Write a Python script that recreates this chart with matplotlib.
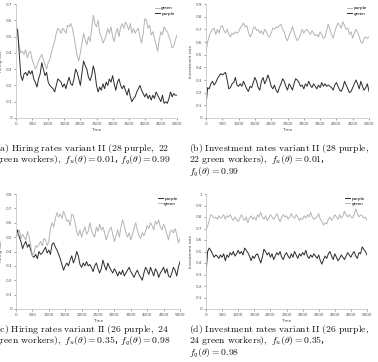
import numpy as np
import matplotlib.pyplot as plt
from matplotlib.ticker import FuncFormatter

plt.rcParams['mathtext.fontset'] = 'cm'

# time axis, one sample every 50 steps
time = np.arange(0, 5001, 50)

# (a) hiring rates, 28 purple / 22 green
hire_a_green = [0.60, 0.52, 0.44, 0.40, 0.41, 0.39, 0.42, 0.37, 0.40, 0.41,
                0.36, 0.33, 0.30, 0.32, 0.35, 0.37, 0.39, 0.36, 0.33, 0.30,
                0.34, 0.36, 0.40, 0.44, 0.47, 0.52, 0.55, 0.54, 0.52, 0.55,
                0.54, 0.52, 0.57, 0.56, 0.58, 0.55, 0.50, 0.44, 0.38, 0.35,
                0.40, 0.46, 0.52, 0.48, 0.45, 0.50, 0.47, 0.55, 0.63, 0.58,
                0.56, 0.60, 0.52, 0.50, 0.46, 0.48, 0.51, 0.55, 0.52, 0.56,
                0.50, 0.47, 0.52, 0.55, 0.50, 0.56, 0.58, 0.55, 0.59, 0.57,
                0.54, 0.58, 0.52, 0.55, 0.52, 0.54, 0.55, 0.50, 0.46, 0.52,
                0.61, 0.60, 0.55, 0.57, 0.51, 0.53, 0.49, 0.45, 0.41, 0.48,
                0.53, 0.51, 0.56, 0.54, 0.53, 0.50, 0.47, 0.43, 0.44, 0.48,
                0.51]
hire_a_purple = [0.55, 0.54, 0.40, 0.26, 0.23, 0.27, 0.28, 0.26, 0.29, 0.27,
                 0.29, 0.24, 0.22, 0.19, 0.24, 0.27, 0.34, 0.30, 0.26, 0.28,
                 0.22, 0.20, 0.19, 0.18, 0.16, 0.20, 0.24, 0.23, 0.22, 0.19,
                 0.21, 0.18, 0.22, 0.25, 0.21, 0.20, 0.24, 0.30, 0.28, 0.24,
                 0.20, 0.28, 0.35, 0.32, 0.30, 0.25, 0.23, 0.26, 0.32, 0.28,
                 0.20, 0.16, 0.19, 0.17, 0.21, 0.18, 0.22, 0.20, 0.24, 0.22,
                 0.26, 0.21, 0.17, 0.22, 0.24, 0.20, 0.18, 0.20, 0.17, 0.14,
                 0.18, 0.13, 0.10, 0.12, 0.13, 0.16, 0.18, 0.20, 0.17, 0.15,
                 0.13, 0.15, 0.12, 0.14, 0.11, 0.14, 0.12, 0.16, 0.14, 0.12,
                 0.10, 0.14, 0.09, 0.10, 0.09, 0.12, 0.16, 0.13, 0.15, 0.14,
                 0.14]

# (b) investment rates, 28 purple / 22 green
inv_b_green = [0.52, 0.60, 0.65, 0.68, 0.70, 0.71, 0.66, 0.70, 0.67, 0.72,
               0.73, 0.69, 0.67, 0.70, 0.66, 0.64, 0.67, 0.66, 0.68, 0.67,
               0.68, 0.71, 0.73, 0.75, 0.72, 0.73, 0.68, 0.64, 0.66, 0.71,
               0.72, 0.69, 0.70, 0.67, 0.69, 0.66, 0.70, 0.68, 0.65, 0.64,
               0.67, 0.71, 0.70, 0.72, 0.71, 0.73, 0.74, 0.70, 0.68, 0.63,
               0.61, 0.65, 0.68, 0.72, 0.68, 0.64, 0.61, 0.63, 0.66, 0.70,
               0.67, 0.69, 0.70, 0.68, 0.66, 0.69, 0.67, 0.65, 0.66, 0.64,
               0.68, 0.66, 0.63, 0.64, 0.69, 0.74, 0.70, 0.66, 0.63, 0.68,
               0.72, 0.75, 0.73, 0.71, 0.76, 0.73, 0.70, 0.71, 0.66, 0.68,
               0.63, 0.67, 0.70, 0.68, 0.64, 0.60, 0.59, 0.63, 0.64, 0.63,
               0.64]
inv_b_purple = [0.10, 0.24, 0.23, 0.27, 0.29, 0.26, 0.28, 0.31, 0.33, 0.35,
                0.34, 0.35, 0.36, 0.30, 0.23, 0.24, 0.27, 0.28, 0.32, 0.26,
                0.25, 0.27, 0.25, 0.29, 0.26, 0.23, 0.21, 0.25, 0.24, 0.28,
                0.32, 0.29, 0.24, 0.22, 0.29, 0.32, 0.27, 0.30, 0.34, 0.30,
                0.25, 0.23, 0.26, 0.22, 0.20, 0.24, 0.27, 0.31, 0.29, 0.25,
                0.22, 0.27, 0.25, 0.22, 0.27, 0.31, 0.30, 0.28, 0.25, 0.26,
                0.23, 0.27, 0.25, 0.29, 0.26, 0.24, 0.27, 0.25, 0.23, 0.26,
                0.24, 0.28, 0.25, 0.27, 0.25, 0.26, 0.25, 0.24, 0.22, 0.26,
                0.28, 0.25, 0.22, 0.21, 0.24, 0.29, 0.26, 0.23, 0.20, 0.21,
                0.24, 0.27, 0.30, 0.27, 0.23, 0.29, 0.25, 0.22, 0.24, 0.27,
                0.21]

# (c) hiring rates, 26 purple / 24 green
hire_c_green = [0.53, 0.51, 0.55, 0.49, 0.52, 0.50, 0.48, 0.54, 0.50, 0.44,
                0.37, 0.39, 0.44, 0.43, 0.45, 0.47, 0.44, 0.49, 0.48, 0.44,
                0.47, 0.56, 0.60, 0.57, 0.63, 0.67, 0.64, 0.66, 0.63, 0.68,
                0.65, 0.61, 0.62, 0.58, 0.66, 0.65, 0.60, 0.54, 0.51, 0.55,
                0.50, 0.54, 0.57, 0.52, 0.54, 0.60, 0.55, 0.52, 0.50, 0.57,
                0.54, 0.59, 0.55, 0.57, 0.53, 0.48, 0.52, 0.55, 0.57, 0.52,
                0.47, 0.51, 0.55, 0.50, 0.57, 0.62, 0.58, 0.53, 0.50, 0.53,
                0.48, 0.52, 0.56, 0.60, 0.55, 0.51, 0.49, 0.53, 0.51, 0.54,
                0.58, 0.56, 0.60, 0.58, 0.55, 0.61, 0.59, 0.62, 0.57, 0.55,
                0.59, 0.56, 0.52, 0.48, 0.54, 0.55, 0.53, 0.56, 0.52, 0.46,
                0.49]
hire_c_purple = [0.51, 0.55, 0.50, 0.47, 0.42, 0.45, 0.47, 0.43, 0.45, 0.41,
                 0.37, 0.36, 0.38, 0.35, 0.40, 0.38, 0.39, 0.41, 0.43, 0.39,
                 0.41, 0.38, 0.45, 0.46, 0.43, 0.41, 0.38, 0.35, 0.31, 0.27,
                 0.30, 0.32, 0.30, 0.34, 0.37, 0.32, 0.35, 0.40, 0.37, 0.31,
                 0.29, 0.32, 0.30, 0.33, 0.30, 0.31, 0.29, 0.26, 0.30, 0.32,
                 0.28, 0.25, 0.28, 0.34, 0.30, 0.27, 0.32, 0.29, 0.27, 0.25,
                 0.28, 0.26, 0.23, 0.26, 0.24, 0.27, 0.23, 0.25, 0.27, 0.29,
                 0.26, 0.24, 0.22, 0.25, 0.27, 0.24, 0.22, 0.20, 0.25, 0.29,
                 0.27, 0.24, 0.29, 0.26, 0.23, 0.28, 0.26, 0.22, 0.25, 0.27,
                 0.29, 0.25, 0.28, 0.23, 0.22, 0.25, 0.29, 0.27, 0.23, 0.29,
                 0.33]

# (d) investment rates, 26 purple / 24 green
inv_d_green = [0.69, 0.72, 0.77, 0.82, 0.81, 0.79, 0.80, 0.78, 0.81, 0.79,
               0.80, 0.82, 0.78, 0.81, 0.80, 0.82, 0.79, 0.77, 0.80, 0.78,
               0.76, 0.79, 0.82, 0.79, 0.77, 0.80, 0.75, 0.79, 0.81, 0.78,
               0.80, 0.77, 0.82, 0.80, 0.84, 0.80, 0.78, 0.81, 0.77, 0.79,
               0.82, 0.80, 0.78, 0.80, 0.83, 0.79, 0.76, 0.80, 0.82, 0.80,
               0.81, 0.78, 0.80, 0.83, 0.80, 0.79, 0.82, 0.80, 0.77, 0.79,
               0.78, 0.81, 0.79, 0.82, 0.80, 0.84, 0.80, 0.78, 0.79, 0.80,
               0.83, 0.78, 0.76, 0.73, 0.75, 0.74, 0.78, 0.80, 0.77, 0.79,
               0.82, 0.80, 0.78, 0.82, 0.79, 0.81, 0.85, 0.82, 0.80, 0.82,
               0.80, 0.79, 0.82, 0.87, 0.83, 0.80, 0.82, 0.81, 0.79, 0.80,
               0.77]
inv_d_purple = [0.30, 0.50, 0.53, 0.51, 0.48, 0.45, 0.47, 0.46, 0.44, 0.47,
                0.45, 0.48, 0.42, 0.47, 0.45, 0.49, 0.47, 0.50, 0.46, 0.48,
                0.51, 0.48, 0.50, 0.47, 0.53, 0.51, 0.49, 0.46, 0.42, 0.46,
                0.44, 0.47, 0.48, 0.44, 0.40, 0.45, 0.52, 0.50, 0.47, 0.49,
                0.45, 0.48, 0.43, 0.46, 0.49, 0.47, 0.50, 0.45, 0.43, 0.47,
                0.49, 0.46, 0.44, 0.48, 0.45, 0.50, 0.47, 0.44, 0.48, 0.46,
                0.49, 0.47, 0.51, 0.46, 0.44, 0.47, 0.45, 0.48, 0.46, 0.44,
                0.47, 0.42, 0.39, 0.43, 0.46, 0.44, 0.48, 0.50, 0.46, 0.43,
                0.48, 0.45, 0.42, 0.44, 0.47, 0.45, 0.43, 0.46, 0.49, 0.47,
                0.45, 0.48, 0.50, 0.46, 0.44, 0.49, 0.48, 0.54, 0.52, 0.50,
                0.47]

DARK = '#2b2b2b'
LIGHT = '#b4b4b4'
W, H = 378, 362


def px_axes(fig, x0, x1, y_top, y_bot):
    return fig.add_axes([x0 / W, 1 - y_bot / H, (x1 - x0) / W, (y_bot - y_top) / H])


def style(ax, ymax, ylabel):
    ax.set_xlim(0, 5000)
    ax.set_ylim(0, ymax)
    ax.set_xticks(np.arange(0, 5001, 500))
    ax.set_yticks(np.arange(0, ymax + 0.001, 0.1))
    fmt = FuncFormatter(lambda v, p: '%g' % round(v, 2))
    ax.xaxis.set_major_formatter(fmt)
    ax.yaxis.set_major_formatter(fmt)
    for s in ['top', 'right']:
        ax.spines[s].set_visible(False)
    for s in ['left', 'bottom']:
        ax.spines[s].set_color('#c8c8c8')
        ax.spines[s].set_linewidth(0.6)
    ax.tick_params(labelsize=3, colors='#555555', length=1.2, width=0.4, pad=1.5)
    ax.set_xlabel('Time', fontsize=3, color='#444444', labelpad=1.5)
    ax.set_ylabel(ylabel, fontsize=3, color='#444444', labelpad=2)


def legend(ax):
    ax.legend(loc='upper right', fontsize=3, frameon=False, handlelength=1.2,
              handletextpad=0.4, borderaxespad=0.2, labelspacing=0.3)


fig = plt.figure(figsize=(W / 100, H / 100), dpi=100)

ax = px_axes(fig, 16, 177, 4, 118)
ax.plot(time, hire_a_green, color=LIGHT, lw=0.7, label='green')
ax.plot(time, hire_a_purple, color=DARK, lw=0.7, label='purple')
style(ax, 0.7, 'Hiring rate')
legend(ax)

ax = px_axes(fig, 206, 369, 4, 118)
ax.plot(time, inv_b_green, color=LIGHT, lw=0.7, label='purple')
ax.plot(time, inv_b_purple, color=DARK, lw=0.7, label='green')
style(ax, 0.9, 'Investment rate')
legend(ax)

ax = px_axes(fig, 16, 180, 194, 309)
ax.plot(time, hire_c_purple, color=DARK, lw=0.7, label='purple')
ax.plot(time, hire_c_green, color=LIGHT, lw=0.7, label='green')
style(ax, 0.8, 'Hiring rate')
legend(ax)

ax = px_axes(fig, 206, 367, 194, 309)
ax.plot(time, inv_d_purple, color=DARK, lw=0.7, label='purple')
ax.plot(time, inv_d_green, color=LIGHT, lw=0.7, label='green')
style(ax, 1.0, 'Investment rate')
legend(ax)


def caption(x, y, s):
    fig.text(x / W, 1 - y / H, s, fontsize=7.0, ha='left', va='baseline', color='#111111')


def rm(s):
    return r'$\mathrm{' + s.replace(' ', r'\ ') + '}$'


caption(-4, 151, rm('(a) Hiring rates variant II (28 purple, 22'))
caption(-5, 162, rm('green workers),') + r' $f_u(\theta) = 0.01$, $f_q(\theta) = 0.99$')
caption(189, 151, rm('(b) Investment rates variant II (28 purple,'))
caption(189, 162, rm('22 green workers),') + r' $f_u(\theta) = 0.01$,')
caption(189, 174, r'$f_q(\theta) = 0.99$')
caption(-4, 332, rm('(c) Hiring rates variant II (26 purple, 24'))
caption(-5, 343, rm('green workers),') + r' $f_u(\theta) = 0.35$, $f_q(\theta) = 0.98$')
caption(189, 332, rm('(d) Investment rates variant II (26 purple,'))
caption(189, 343, rm('24 green workers),') + r' $f_u(\theta) = 0.35$,')
caption(189, 355, r'$f_q(\theta) = 0.98$')

fig.savefig('out.png', dpi=100)
